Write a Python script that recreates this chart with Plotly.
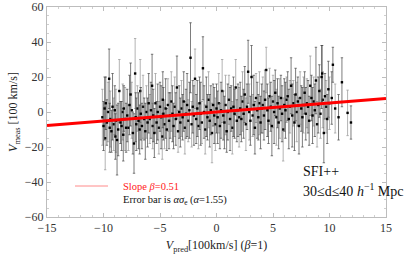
import plotly.graph_objects as go

# ---- data ----
x_pred = [
    -10.1,-10.0,-9.9,-9.85,-9.8,-9.7,-9.6,-9.5,-9.45,-9.4,-9.3,-9.2,-9.1,-9.0,-8.95,-8.9,-8.8,-8.7,-8.6,-8.5,-8.4,-8.3,-8.25,-8.2,-8.1,-8.0,
    -7.9,-7.8,-7.7,-7.6,-7.5,-7.4,-7.3,-7.2,-7.15,-7.1,-7.0,-6.9,-6.8,-6.75,-6.7,-6.6,-6.5,-6.4,-6.3,-6.2,-6.1,-6.0,
    -5.9,-5.8,-5.7,-5.65,-5.6,-5.5,-5.4,-5.3,-5.2,-5.1,-5.0,-4.9,-4.8,-4.75,-4.7,-4.6,-4.5,-4.4,-4.3,-4.2,-4.1,-4.0,
    -3.9,-3.8,-3.7,-3.6,-3.5,-3.4,-3.3,-3.2,-3.1,-3.0,-2.9,-2.8,-2.7,-2.6,-2.5,-2.4,-2.3,-2.2,-2.1,-2.0,
    -1.9,-1.8,-1.7,-1.6,-1.5,-1.4,-1.3,-1.2,-1.1,-1.0,-0.9,-0.8,-0.7,-0.6,-0.5,-0.4,-0.3,-0.2,-0.1,0.0,
    0.1,0.2,0.3,0.4,0.5,0.6,0.7,0.8,0.9,1.0,1.1,1.2,1.3,1.4,1.5,1.6,1.7,1.8,1.9,2.0,
    2.1,2.2,2.3,2.4,2.5,2.6,2.7,2.8,2.9,3.0,3.1,3.2,3.3,3.4,3.5,3.6,3.7,3.8,3.9,4.0,
    4.1,4.2,4.3,4.4,4.5,4.6,4.7,4.8,4.9,5.0,5.1,5.2,5.3,5.4,5.5,5.6,5.7,5.8,5.9,6.0,
    6.1,6.2,6.3,6.4,6.5,6.6,6.7,6.8,6.9,7.0,7.1,7.2,7.3,7.4,7.5,7.6,7.7,7.8,7.9,8.0,
    8.1,8.2,8.3,8.4,8.5,8.6,8.7,8.8,8.9,9.0,9.1,9.2,9.3,9.35,9.4,9.5,9.6,9.7,9.8,9.9,10.0,
    10.2,10.3,10.5,10.8,11.1,11.6,11.9,
]
v_meas = [
    -3,-8,2,-15,5,-6,0,19,-9,-4,-11,3,-7,1,-14,-5,-16,-10,12,-6,-8,0,-13,2,-4,-9,
    -2,-9,4,10,1,-12,-18,22,-3,-7,2,-5,-10,12,-1,-8,3,-4,-11,0,-6,5,
    -4,1,15,-8,-2,-12,5,-6,0,-9,3,-3,-14,7,-1,-7,2,-10,4,-5,-2,6,
    -1,-8,3,-4,14,-11,0,-6,2,-3,6,-9,-1,4,-5,1,31,-7,3,-2,
    19,-4,2,-8,5,-1,-6,25,0,-10,3,-3,7,-5,1,-12,4,-2,-7,2,
    -3,5,-8,1,12,-2,-6,4,-11,0,7,-4,2,-9,3,-1,14,-5,1,-3,
    2,-4,6,-1,10,-7,3,23,0,-5,20,-2,4,-9,8,1,-3,5,-6,2,
    4,-2,7,24,1,-5,9,3,-8,6,0,11,-3,5,-6,2,8,-1,-10,4,
    1,7,9,-4,3,15,-2,5,-6,10,0,6,-8,8,2,-3,4,11,-1,5,
    3,-5,15,8,-2,6,1,18,-7,4,12,-1,20,22,7,-12,9,3,-4,13,5,
    8,27,2,-3,17,-0.5,-6,
]
err = [
    16,14,18,18,15,13,17,17,14,16,12,19,15,14,13,18,20,15,18,12,14,16,15,13,18,14,
    15,13,17,18,16,12,17,20,14,15,13,16,14,18,15,13,18,12,16,15,14,17,
    14,16,18,13,15,14,17,12,16,15,14,18,13,16,15,14,17,12,15,16,13,17,
    16,13,17,15,18,12,15,14,16,13,17,15,14,18,12,16,20,13,15,17,
    17,14,16,13,15,18,12,18,15,14,17,13,16,15,14,17,12,16,15,14,
    15,17,13,16,18,14,15,17,12,16,14,18,13,15,17,14,16,12,15,17,
    15,13,17,14,16,15,13,18,16,14,18,12,17,15,14,16,13,18,15,14,
    16,14,17,13,15,13,16,14,17,15,18,13,16,14,15,17,13,16,18,15,
    16,13,14,17,15,16,18,13,16,15,17,14,16,15,13,17,16,12,15,14,
    15,14,17,13,16,14,15,19,13,16,15,14,18,16,16,17,13,15,14,16,15,
    15,10,14,13,14,13,9.5,
]
slope = 0.51
line_x = [-15, 15]

FONT = "Liberation Serif"

dark_i = [i for i in range(len(x_pred)) if i % 3 != 0]
light_i = [i for i in range(len(x_pred)) if i % 3 == 0]

fig = go.Figure()
for idx, col in [(light_i, "rgba(160,160,160,0.8)"), (dark_i, "rgba(70,70,70,0.7)")]:
    fig.add_trace(go.Scatter(
        x=[x_pred[i] for i in idx], y=[v_meas[i] for i in idx],
        mode="markers",
        marker=dict(symbol="square", size=2.4, color="black"),
        error_y=dict(type="data", array=[err[i] for i in idx], visible=True,
                     color=col, thickness=1, width=1.2),
        showlegend=False, hoverinfo="skip"))

fig.add_trace(go.Scatter(
    x=line_x, y=[slope * v for v in line_x], mode="lines",
    line=dict(color="#ff0000", width=3), showlegend=False, hoverinfo="skip"))

axis_common = dict(
    showgrid=False, zeroline=False, showline=True, linecolor="#bdbdbd", linewidth=1,
    mirror="ticks", ticks="inside", ticklen=4, tickcolor="#bdbdbd", automargin=False,
    tickfont=dict(family=FONT, size=12, color="#333333"),
)
fig.update_xaxes(range=[-15, 15], tickvals=[-15, -10, -5, 0, 5, 10, 15],
                 minor=dict(dtick=1, ticks="inside", ticklen=2, tickcolor="#cfcfcf"),
                 title=dict(text="<i>V</i><sub>pred</sub>[100km/s] (<i>β</i>=1)",
                            font=dict(family=FONT, size=12, color="#222"), standoff=6),
                 **axis_common)
fig.update_yaxes(range=[-60, 60], tickvals=[-60, -40, -20, 0, 20, 40, 60],
                 minor=dict(dtick=5, ticks="inside", ticklen=2, tickcolor="#cfcfcf"),
                 title=dict(text="<i>V</i><sub>meas</sub> [100 km/s]",
                            font=dict(family=FONT, size=12, color="#222"), standoff=4),
                 **axis_common)

def px2paper_x(px):
    return (px - 47) / 339.0

def py2paper_y(py):
    return (217 - py) / 210.0

fig.add_shape(type="line", xref="paper", yref="paper",
              x0=px2paper_x(75), x1=px2paper_x(108), y0=py2paper_y(186), y1=py2paper_y(186),
              line=dict(color="rgba(255,60,60,0.6)", width=1))
fig.add_annotation(xref="paper", yref="paper", x=px2paper_x(121), y=py2paper_y(186),
                   xanchor="left", yanchor="middle", showarrow=False,
                   text="Slope <i>β</i>=0.51", font=dict(family=FONT, size=10.5, color="#ff2020"))
fig.add_annotation(xref="paper", yref="paper", x=px2paper_x(121), y=py2paper_y(200),
                   xanchor="left", yanchor="middle", showarrow=False,
                   text="Error bar is <i>ασ</i><sub>e</sub> (<i>α</i>=1.55)",
                   font=dict(family=FONT, size=10.5, color="#111"))
fig.add_annotation(xref="paper", yref="paper", x=px2paper_x(301), y=py2paper_y(171),
                   xanchor="left", yanchor="middle", showarrow=False,
                   text="SFI++", font=dict(family=FONT, size=14, color="#111"))
fig.add_annotation(xref="paper", yref="paper", x=px2paper_x(301), y=py2paper_y(190),
                   xanchor="left", yanchor="middle", showarrow=False,
                   text="30≤d≤40 <i>h</i><sup>−1</sup> Mpc", font=dict(family=FONT, size=14, color="#111"))

fig.update_layout(
    width=415, height=259,
    margin=dict(l=47, r=29, t=7, b=42),
    paper_bgcolor="white", plot_bgcolor="white",
)

fig.write_html("out.html", config={"displayModeBar": False},
               post_script="document.body.style.margin='0';document.body.style.padding='0';")
